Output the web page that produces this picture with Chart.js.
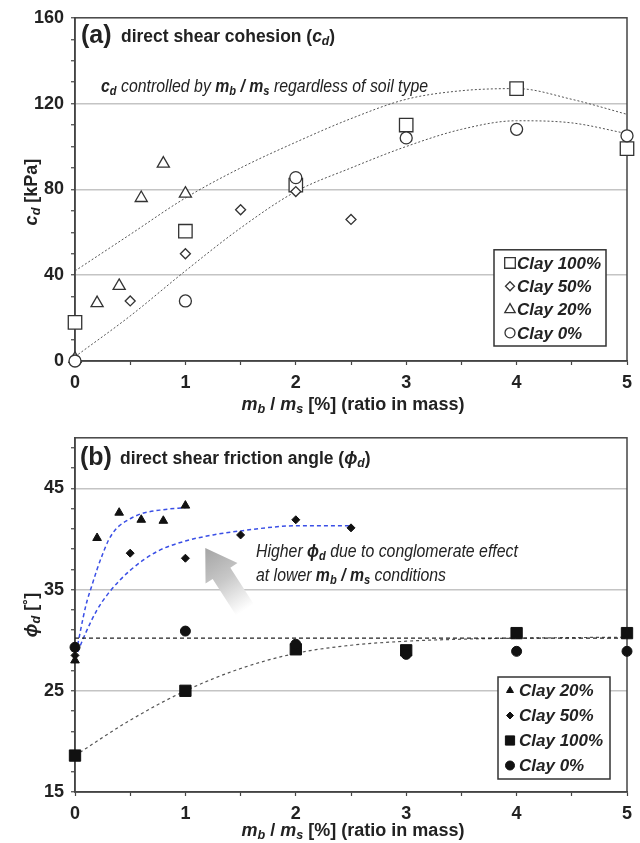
<!DOCTYPE html>
<html>
<head>
<meta charset="utf-8">
<script src="https://cdn.jsdelivr.net/npm/chart.js@4.4.0/dist/chart.umd.min.js"></script>
<style>
    html, body { margin: 0; padding: 0; background: #fff; }
    #page { position: relative; width: 640px; height: 843px; overflow: hidden; }
    canvas { position: absolute; left: 0; }
    #chartA { top: 0; }
    #chartB { top: 420px; }
    .lbl {
        position: absolute; white-space: nowrap; color: #222;
        font-family: "Liberation Sans", Arial, sans-serif;
    }
    .lbl sub { font-size: 70%; vertical-align: -0.25em; line-height: 0; }
    .panel { font-size: 25px; font-weight: bold; transform: translateY(-50%); }
    .head { font-size: 18px; font-weight: bold; transform-origin: 0 50%; transform: translateY(-50%) scaleX(0.97); }
    .note { font-size: 18px; font-style: italic; transform-origin: 0 50%; transform: translateY(-50%) scaleX(0.88); }
    .ytitle { font-size: 18px; font-weight: bold; transform: translate(-50%, -50%) rotate(-90deg); }
    .xtitle { font-size: 18px; font-weight: bold; transform: translate(-50%, -50%); }
</style>
</head>
<body>
<div id="page">
    <canvas id="chartA" width="640" height="420"></canvas>
    <canvas id="chartB" width="640" height="423"></canvas>

    <div class="lbl panel" style="left:81px; top:34px;">(a)</div>
    <div class="lbl head" style="left:121px; top:36px;">direct shear cohesion (<i>c<sub>d</sub></i>)</div>
    <div class="lbl note" style="left:101px; top:86px;"><b>c<sub>d</sub></b> controlled by <b>m<sub>b</sub> / m<sub>s</sub></b> regardless of soil type</div>
    <div class="lbl ytitle" style="left:31px; top:192px;"><i>c<sub>d</sub></i> [kPa]</div>
    <div class="lbl xtitle" style="left:353px; top:404px;"><i>m<sub>b</sub></i> / <i>m<sub>s</sub></i> [%] (ratio in mass)</div>

    <div class="lbl panel" style="left:80px; top:456px;">(b)</div>
    <div class="lbl head" style="left:120px; top:458px;">direct shear friction angle (<i>ϕ<sub>d</sub></i>)</div>
    <div class="lbl note" style="left:256px; top:551px;">Higher <b>ϕ<sub>d</sub></b> due to conglomerate effect</div>
    <div class="lbl note" style="left:256px; top:575px;">at lower <b>m<sub>b</sub> / m<sub>s</sub></b> conditions</div>
    <div class="lbl ytitle" style="left:31px; top:615px;"><i>ϕ<sub>d</sub></i> [˚]</div>
    <div class="lbl xtitle" style="left:353px; top:830px;"><i>m<sub>b</sub></i> / <i>m<sub>s</sub></i> [%] (ratio in mass)</div>
</div>

<script>
// (a) 直剪黏聚力 c_d [kPa]
const cdClay100X = [0, 1, 2, 3, 4, 5];
const cdClay100Y = [18, 60.5, 82, 110, 127, 99];
const cdClay50X = [0, 0.5, 1, 1.5, 2, 2.5];
const cdClay50Y = [0, 28, 50, 70.5, 79, 66];
const cdClay20X = [0, 0.2, 0.4, 0.6, 0.8, 1];
const cdClay20Y = [1, 27, 35, 76, 92, 78];
const cdClay0X = [0, 1, 2, 3, 4, 5];
const cdClay0Y = [0, 28, 85.5, 104, 108, 105];

// (a) 趋势线（读图取点）
const cdFitX = [0, 0.5, 1, 1.5, 2, 2.5, 3, 3.5, 4, 4.5, 5];
const cdUpperFitY = [42, 59, 76, 90, 102, 113, 122, 126, 127, 122, 115];
const cdLowerFitY = [2, 21, 42, 62, 79, 90, 100, 108, 112, 111, 106];

// (b) 直剪内摩擦角 phi_d [deg]
const phiClay20X = [0, 0.2, 0.4, 0.6, 0.8, 1];
const phiClay20Y = [28.0, 40.1, 42.6, 41.9, 41.8, 43.3];
const phiClay50X = [0, 0.5, 1, 1.5, 2, 2.5];
const phiClay50Y = [28.5, 38.6, 38.1, 40.4, 41.9, 41.1];
const phiClay100X = [0, 1, 2, 3, 4, 5];
const phiClay100Y = [18.6, 25, 29.1, 29, 30.7, 30.7];
const phiClay0X = [0, 1, 2, 3, 4, 5];
const phiClay0Y = [29.3, 30.9, 29.6, 28.6, 28.9, 28.9];

// (b) 趋势线（读图取点）
const phiFit20X = [0, 0.1, 0.15, 0.2, 0.25, 0.3, 0.35, 0.4, 0.5, 0.6, 0.8, 1];
const phiFit20Y = [28.2, 33.5, 35.3, 37, 38.5, 39.8, 40.7, 41.3, 42, 42.5, 42.9, 43.1];
const phiFit50X = [0, 0.1, 0.2, 0.3, 0.5, 0.75, 1, 1.25, 1.5, 2, 2.5];
const phiFit50Y = [28.2, 30.8, 33, 34.6, 36.9, 38.8, 39.8, 40.4, 40.8, 41.3, 41.3];
const phiFit100X = [0, 0.5, 1, 1.5, 2, 2.5, 3, 3.5, 4, 5];
const phiFit100Y = [18.6, 22.1, 25, 27.2, 28.7, 29.5, 29.9, 30.1, 30.2, 30.3];
const phiFlatX = [0, 5];
const phiFlatY = [30.2, 30.2];

// 坐标刻度
const xTicks = [0, 0.5, 1, 1.5, 2, 2.5, 3, 3.5, 4, 4.5, 5];
const xLabels = [0, 1, 2, 3, 4, 5];
const cdTicks = [0, 10, 20, 30, 40, 50, 60, 70, 80, 90, 100, 110, 120, 130, 140, 150, 160];
const cdLabels = [0, 40, 80, 120, 160];
const cdGrid = [40, 80, 120];
const phiTicks = [15, 17, 19, 21, 23, 25, 27, 29, 31, 33, 35, 37, 39, 41, 43, 45, 47, 49];
const phiLabels = [15, 25, 35, 45];
const phiGrid = [25, 35, 45];

const legendA = ['Clay 100%', 'Clay 50%', 'Clay 20%', 'Clay 0%'];
const legendB = ['Clay 20%', 'Clay 50%', 'Clay 100%', 'Clay 0%'];

const FONT = '"Liberation Sans", Arial, sans-serif';
const AXIS = '#444';

function pts(xs, ys) {
    return xs.map((x, i) => ({ x: x, y: ys[i] }));
}

function markers(label, xs, ys, style, radius, filled) {
    return {
        label: label,
        data: pts(xs, ys),
        showLine: false,
        clip: false,
        pointStyle: style,
        pointRadius: radius,
        pointBackgroundColor: filled ? '#111' : '#fff',
        pointBorderColor: filled ? '#111' : '#333',
        pointBorderWidth: filled ? 1 : 1.3
    };
}

function fitLine(label, xs, ys, color, dash, width) {
    return {
        label: label,
        data: pts(xs, ys),
        showLine: true,
        pointRadius: 0,
        borderColor: color,
        borderWidth: width,
        borderDash: dash,
        cubicInterpolationMode: 'monotone',
        fill: false
    };
}

// 简单的标记绘制（图例用）
function drawMarker(ctx, style, r, x, y) {
    if (Chart.helpers && Chart.helpers.drawPoint) {
        Chart.helpers.drawPoint(ctx, { pointStyle: style, radius: r, rotation: 0, borderWidth: ctx.lineWidth }, x, y);
        return;
    }
    ctx.beginPath();
    if (style === 'rect') {
        const s = r * Math.SQRT1_2;
        ctx.rect(x - s, y - s, 2 * s, 2 * s);
    } else if (style === 'rectRot') {
        ctx.moveTo(x, y - r); ctx.lineTo(x + r, y); ctx.lineTo(x, y + r); ctx.lineTo(x - r, y); ctx.closePath();
    } else if (style === 'triangle') {
        ctx.moveTo(x, y - r);
        ctx.lineTo(x + r * 0.866, y + r / 2);
        ctx.lineTo(x - r * 0.866, y + r / 2);
        ctx.closePath();
    } else {
        ctx.arc(x, y, r, 0, Math.PI * 2);
    }
    ctx.fill();
    ctx.stroke();
}

// 绘图区外框
const framePlugin = {
    id: 'frame',
    beforeDatasetsDraw(chart) {
        const { ctx, chartArea: a } = chart;
        ctx.save();
        ctx.strokeStyle = AXIS;
        ctx.lineWidth = 1.5;
        ctx.strokeRect(a.left, a.top, a.right - a.left, a.bottom - a.top);
        ctx.restore();
    }
};

// 图内方框图例
const boxLegendPlugin = {
    id: 'boxLegend',
    afterDraw(chart, args, o) {
        if (!o || !o.entries) return;
        const { ctx, chartArea: a } = chart;
        const h = o.rowH * o.entries.length + o.padY * 2;
        const x0 = a.right - o.right - o.width;
        const y0 = a.bottom - o.bottom - h;
        ctx.save();
        ctx.fillStyle = '#fff';
        ctx.fillRect(x0, y0, o.width, h);
        ctx.strokeStyle = '#333';
        ctx.lineWidth = 1.5;
        ctx.strokeRect(x0, y0, o.width, h);
        o.entries.forEach((label, i) => {
            const ds = chart.data.datasets.find(d => d.label === label);
            const cy = y0 + o.padY + o.rowH * (i + 0.5);
            ctx.fillStyle = ds.pointBackgroundColor;
            ctx.strokeStyle = ds.pointBorderColor;
            ctx.lineWidth = ds.pointBorderWidth;
            drawMarker(ctx, ds.pointStyle, o.radius[i], x0 + o.markerX, cy);
            ctx.fillStyle = '#222';
            ctx.font = 'italic bold 17px ' + FONT;
            ctx.textBaseline = 'middle';
            ctx.textAlign = 'left';
            ctx.fillText(label, x0 + o.textX, cy + 1);
        });
        ctx.restore();
    }
};

// 灰色渐变箭头
const arrowPlugin = {
    id: 'arrow',
    beforeDatasetsDraw(chart, args, o) {
        if (!o || !o.tip) return;
        const { ctx, scales } = chart;
        const tx = scales.x.getPixelForValue(o.tip[0]), ty = scales.y.getPixelForValue(o.tip[1]);
        const sx = scales.x.getPixelForValue(o.tail[0]), sy = scales.y.getPixelForValue(o.tail[1]);
        const len = Math.hypot(tx - sx, ty - sy);
        const ux = (tx - sx) / len, uy = (ty - sy) / len;
        const nx = -uy, ny = ux;
        const bx = tx - ux * o.headLen, by = ty - uy * o.headLen;
        const g = ctx.createLinearGradient(tx, ty, sx, sy);
        g.addColorStop(0, '#a4a4a4');
        g.addColorStop(0.5, '#c8c8c8');
        g.addColorStop(1, '#ffffff');
        ctx.save();
        ctx.fillStyle = g;
        ctx.beginPath();
        ctx.moveTo(tx, ty);
        ctx.lineTo(bx + nx * o.headW, by + ny * o.headW);
        ctx.lineTo(bx + nx * o.shaftW, by + ny * o.shaftW);
        ctx.lineTo(sx + nx * o.shaftW, sy + ny * o.shaftW);
        ctx.lineTo(sx - nx * o.shaftW, sy - ny * o.shaftW);
        ctx.lineTo(bx - nx * o.shaftW, by - ny * o.shaftW);
        ctx.lineTo(bx - nx * o.headW, by - ny * o.headW);
        ctx.closePath();
        ctx.fill();
        ctx.restore();
    }
};

function axisX() {
    return {
        type: 'linear',
        min: 0,
        max: 5,
        afterBuildTicks: s => { s.ticks = xTicks.map(v => ({ value: v })); },
        afterFit: s => { s.height = s.chart.height - s.chart.options.plotBottom; },
        border: { color: AXIS, width: 1.5 },
        grid: { drawOnChartArea: false, tickLength: 4, tickColor: AXIS, tickWidth: 1.2 },
        ticks: {
            autoSkip: false,
            maxRotation: 0,
            padding: 7,
            color: '#222',
            font: { family: FONT, size: 18, weight: 'bold' },
            callback: v => xLabels.includes(v) ? String(v) : ''
        }
    };
}

function axisY(min, max, tickList, labelList, gridList) {
    return {
        type: 'linear',
        min: min,
        max: max,
        afterBuildTicks: s => { s.ticks = tickList.map(v => ({ value: v })); },
        afterFit: s => { s.width = 75; },
        border: { color: AXIS, width: 1.5 },
        grid: {
            tickLength: 4,
            tickColor: AXIS,
            tickWidth: 1.2,
            lineWidth: 1.5,
            color: c => gridList.includes(c.tick.value) ? '#c4c4c4' : 'rgba(0,0,0,0)'
        },
        ticks: {
            autoSkip: false,
            padding: 7,
            color: '#222',
            font: { family: FONT, size: 18, weight: 'bold' },
            callback: v => labelList.includes(v) ? String(v) : ''
        }
    };
}

function baseOptions(padTop, plotBottom, yAxis, legendOpts, arrowOpts) {
    return {
        responsive: false,
        animation: false,
        plotBottom: plotBottom,
        layout: { padding: { top: padTop, right: 13, left: 0, bottom: 0 } },
        scales: { x: axisX(), y: yAxis },
        plugins: {
            legend: { display: false },
            tooltip: { enabled: false },
            boxLegend: legendOpts,
            arrow: arrowOpts
        }
    };
}

const extraPlugins = [framePlugin, arrowPlugin, boxLegendPlugin];

// (a) 黏聚力图
new Chart(document.getElementById('chartA').getContext('2d'), {
    type: 'scatter',
    data: {
        datasets: [
            markers('Clay 0%', cdClay0X, cdClay0Y, 'circle', 6, false),
            markers('Clay 20%', cdClay20X, cdClay20Y, 'triangle', 7, false),
            markers('Clay 50%', cdClay50X, cdClay50Y, 'rectRot', 5, false),
            markers('Clay 100%', cdClay100X, cdClay100Y, 'rect', 9.5, false),
            fitLine('upper fit', cdFitX, cdUpperFitY, '#555', [2, 2], 1),
            fitLine('lower fit', cdFitX, cdLowerFitY, '#555', [2, 2], 1)
        ]
    },
    options: baseOptions(15, 361,
        axisY(0, 160, cdTicks, cdLabels, cdGrid),
        { entries: legendA, right: 21, bottom: 15, width: 112, rowH: 23.3, padY: 1.5, markerX: 16, textX: 23, radius: [7.5, 4.5, 6, 5] },
        {}),
    plugins: extraPlugins
});

// (b) 内摩擦角图
new Chart(document.getElementById('chartB').getContext('2d'), {
    type: 'scatter',
    data: {
        datasets: [
            markers('Clay 0%', phiClay0X, phiClay0Y, 'circle', 5, true),
            markers('Clay 100%', phiClay100X, phiClay100Y, 'rect', 8, true),
            markers('Clay 50%', phiClay50X, phiClay50Y, 'rectRot', 4, true),
            markers('Clay 20%', phiClay20X, phiClay20Y, 'triangle', 5, true),
            fitLine('flat fit', phiFlatX, phiFlatY, '#222', [4, 3], 1.2),
            fitLine('fit 100%', phiFit100X, phiFit100Y, '#555', [3, 3], 1.2),
            fitLine('fit 50%', phiFit50X, phiFit50Y, '#3a4fe6', [4, 3], 1.5),
            fitLine('fit 20%', phiFit20X, phiFit20Y, '#3a4fe6', [4, 3], 1.5)
        ]
    },
    options: baseOptions(16, 372,
        axisY(15, 50, phiTicks, phiLabels, phiGrid),
        { entries: legendB, right: 17, bottom: 13, width: 112, rowH: 25, padY: 1, markerX: 12, textX: 21, radius: [4, 3.5, 6.5, 4.5] },
        { tip: [1.18, 39.1], tail: [1.54, 33.0], headLen: 30, headW: 19, shaftW: 10.5 }),
    plugins: extraPlugins
});
</script>
</body>
</html>
